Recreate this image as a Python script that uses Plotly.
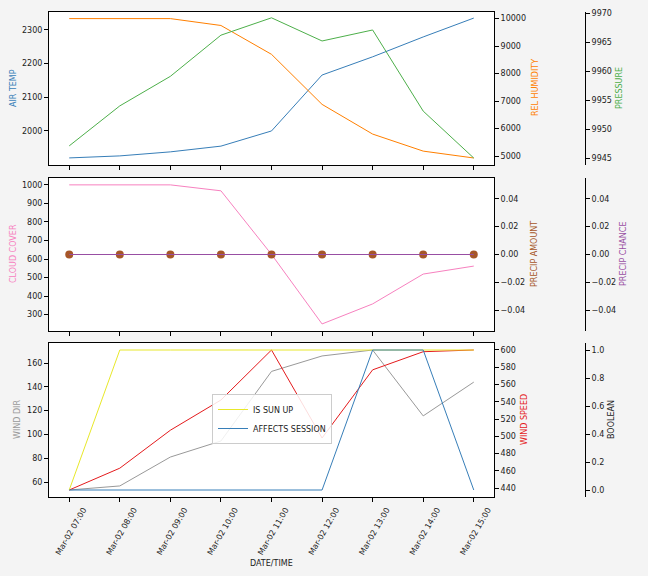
import plotly.graph_objects as go

# ---- data ----
times = ["2024-03-02 07:00", "2024-03-02 08:00", "2024-03-02 09:00", "2024-03-02 10:00",
         "2024-03-02 11:00", "2024-03-02 12:00", "2024-03-02 13:00", "2024-03-02 14:00",
         "2024-03-02 15:00"]
air_temp = [1920, 1926, 1938, 1955, 2000, 2166, 2220, 2279, 2335]
rel_humidity = [10000, 10000, 10000, 9750, 8700, 6880, 5800, 5180, 4930]
pressure = [9947.1, 9954.0, 9959.1, 9966.2, 9969.2, 9965.2, 9967.1, 9953.1, 9945.0]
cloud_cover = [1000, 1000, 1000, 968, 625, 250, 358, 519, 562]
precip_amount = [0, 0, 0, 0, 0, 0, 0, 0, 0]
precip_chance = [0, 0, 0, 0, 0, 0, 0, 0, 0]
wind_dir = [53.3, 56.7, 81, 94.5, 153, 166, 171, 115.6, 144]
wind_speed = [437.7, 463, 507, 542, 600, 498, 577, 598, 600]
is_sun_up = [0, 1, 1, 1, 1, 1, 1, 1, 1]
affects_session = [0, 0, 0, 0, 0, 0, 1, 1, 0]

air_ticks = [2000, 2100, 2200, 2300]

C_BLUE = "#377eb8"
C_ORANGE = "#ff7f00"
C_GREEN = "#4daf4a"
C_PINK = "#f781bf"
C_BROWN = "#a65628"
C_PURPLE = "#984ea3"
C_GRAY = "#999999"
C_RED = "#e41a1c"
C_YELLOW = "#e8e82a"

W, H = 648, 576
FONT = "DejaVu Sans"
FS = 8

def px_x(p):
    return p / W

def dom(top, bottom):
    return [1 - bottom / H, 1 - top / H]

D1 = dom(12, 165)
D2 = dom(178, 331)
D3 = dom(343, 497)
XD = [px_x(49), px_x(494)]
FREE_POS = px_x(585)

fig = go.Figure()

def line(y, color, xa, ya, name=None, show=False):
    fig.add_trace(go.Scatter(x=times, y=y, mode="lines", line=dict(color=color, width=1),
                             xaxis=xa, yaxis=ya, name=name, showlegend=show))

# panel 1
line(air_temp, C_BLUE, "x", "y")
line(rel_humidity, C_ORANGE, "x", "y2")
line(pressure, C_GREEN, "x", "y3")
# panel 2
line(cloud_cover, C_PINK, "x2", "y4")
fig.add_trace(go.Scatter(x=times, y=precip_amount, mode="markers",
                         marker=dict(color=C_BROWN, size=8), xaxis="x2", yaxis="y5",
                         showlegend=False))
line(precip_chance, C_PURPLE, "x2", "y6")
# panel 3
line(wind_dir, C_GRAY, "x3", "y7")
line(wind_speed, C_RED, "x3", "y8")
line(is_sun_up, C_YELLOW, "x3", "y9", name="IS SUN UP", show=True)
line(affects_session, C_BLUE, "x3", "y9", name="AFFECTS SESSION", show=True)

tickfont = dict(family=FONT, size=FS, color="#222222")
xrange = ["2024-03-02 06:36:00", "2024-03-02 15:24:00"]

def xax(domain_anchor, labels):
    return dict(domain=XD, anchor=domain_anchor, range=xrange, type="date",
                tickvals=times, tickformat="%b-%d %H:%M", showticklabels=labels,
                tickangle=-60 if labels else 0, ticks="outside", ticklen=4,
                ticklabelshift=14 if labels else 0,
                tickcolor="black", showline=True, linecolor="black", linewidth=1,
                mirror=True, showgrid=False, zeroline=False, tickfont=tickfont,
                automargin=False)

def yax_main(domain, anchor, rng, dtick, **kw):
    d = dict(domain=domain, anchor=anchor, range=rng, dtick=dtick, ticks="outside",
             ticklen=4, tickcolor="black", showline=True, linecolor="black", linewidth=1,
             mirror=True, showgrid=False, zeroline=False, tickfont=tickfont, tickformat="d",
             automargin=False)
    d.update(kw)
    return d

def yax_right(over, anchor, rng, dtick, free=False, **kw):
    d = dict(overlaying=over, side="right", range=rng, dtick=dtick, ticks="outside",
             ticklen=4, tickcolor="black", showline=True, linecolor="black", linewidth=1,
             showgrid=False, zeroline=False, tickfont=tickfont, tickformat="d",
             automargin=False)
    if free:
        d.update(anchor="free", position=FREE_POS)
    else:
        d.update(anchor=anchor)
    d.update(kw)
    return d

fig.update_layout(
    width=W, height=H,
    margin=dict(l=0, r=0, t=0, b=0, autoexpand=False),
    paper_bgcolor="#f4f4f4",
    plot_bgcolor="white",
    font=dict(family=FONT, size=FS, color="#222222"),
    xaxis=xax("y", False),
    xaxis2=xax("y4", False),
    xaxis3=xax("y7", True),
    yaxis=yax_main(D1, "x", [1899, 2353], None, tickvals=air_ticks),
    yaxis2=yax_right("y", "x", [4675, 10240], 1000),
    yaxis3=yax_right("y", "x", [9943.8, 9970.2], 5, free=True),
    yaxis4=yax_main(D2, "x2", [212, 1037], 100),
    yaxis5=yax_right("y4", "x2", [-0.055, 0.055], 0.02, tickformat=".2f"),
    yaxis6=yax_right("y4", "x2", [-0.055, 0.055], 0.02, free=True, tickformat=".2f"),
    yaxis7=yax_main(D3, "x3", [47.4, 176.9], 20),
    yaxis8=yax_right("y7", "x3", [429.6, 608.1], 20),
    yaxis9=yax_right("y7", "x3", [-0.05, 1.05], 0.2, free=True, tickformat=".1f"),
    legend=dict(x=px_x(272), y=1 - 419 / H, xanchor="center", yanchor="middle",
                bgcolor="rgba(255,255,255,0.85)", bordercolor="#cccccc", borderwidth=1,
                font=dict(family=FONT, size=FS, color="#222222"),
                tracegroupgap=0, itemwidth=30),
    showlegend=True,
)

def vlabel(text, xpx, ypx, color):
    fig.add_annotation(text=text, x=px_x(xpx), y=1 - ypx / H, xref="paper", yref="paper",
                       xanchor="center", yanchor="middle", textangle=-90, showarrow=False,
                       font=dict(family=FONT, size=FS, color=color))

vlabel("AIR TEMP", 13, 88, C_BLUE)
vlabel("REL HUMIDITY", 535, 88, C_ORANGE)
vlabel("PRESSURE", 619, 88, C_GREEN)
vlabel("CLOUD COVER", 13, 254, C_PINK)
vlabel("PRECIP AMOUNT", 534, 254, C_BROWN)
vlabel("PRECIP CHANCE", 623, 254, C_PURPLE)
vlabel("WIND DIR", 17, 420, C_GRAY)
vlabel("WIND SPEED", 524, 420, C_RED)
vlabel("BOOLEAN", 611, 420, "#222222")

fig.add_annotation(text="DATE/TIME", x=px_x(271), y=1 - 563 / H, xref="paper", yref="paper",
                   xanchor="center", yanchor="middle", showarrow=False,
                   font=dict(family=FONT, size=FS, color="#222222"))

fig.write_html("out.html", config={"displayModeBar": False},
               post_script="document.body.style.margin='0';document.body.style.overflow='hidden';")
